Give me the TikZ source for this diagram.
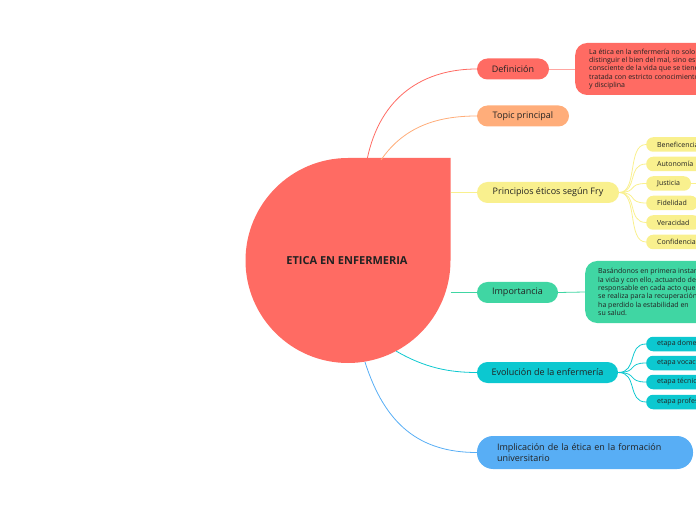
\documentclass[tikz,border=0pt]{standalone}
\usepackage{fontspec}
\setmainfont{Open Sans}
\definecolor{cred}{HTML}{FF6B63}
\definecolor{corange}{HTML}{FFAD7A}
\definecolor{cyellow}{HTML}{F9F08E}
\definecolor{cgreen}{HTML}{40D6A3}
\definecolor{ccyan}{HTML}{0CC8D0}
\definecolor{cblue}{HTML}{58AEF5}
\definecolor{ctext}{HTML}{222222}
\begin{document}
\begin{tikzpicture}[x=1pt,y=1pt,
  topic/.style={rounded corners=10.5pt, minimum height=21pt, inner sep=0pt, font=\fontsize{9}{10.5}\selectfont, text=ctext},
  sub/.style={rounded corners=7pt, minimum height=14.5pt, inner xsep=11pt, inner ysep=0pt, anchor=west, font=\fontsize{7}{8}\selectfont, text=ctext},
  note/.style={rounded corners=12pt, anchor=west, inner xsep=14pt, inner ysep=5pt, align=left, font=\fontsize{7}{8.4}\selectfont, text=ctext},
  conn/.style={line width=0.8pt}
]
\useasboundingbox (0,0) rectangle (696,520);
\clip (0,0) rectangle (696,520);
% central shape
\fill[cred] (348,362) -- (450.5,362) -- (450.5,259.5) arc[start angle=0, end angle=-270, radius=102.5] -- cycle;
\node[font=\fontsize{11}{13}\bfseries, text=ctext] (c) at (347,259) {ETICA EN ENFERMERIA};
\coordinate (cdef) at (367,360);
\coordinate (ctop) at (381,360);
\coordinate (cpri) at (450.5,327.5);
\coordinate (cimp) at (450.5,227.5);
\coordinate (cevo) at (396,169);
\coordinate (cimpl) at (365,158);

% main nodes
\node[topic, fill=cred, minimum width=72pt] (def) at (513,451) {Definición};
\node[topic, fill=corange, minimum width=92pt] (top) at (523,404) {Topic principal};
\node[topic, fill=cyellow, minimum width=142pt] (pri) at (548,327.5) {Principios éticos según Fry};
\node[topic, fill=cgreen, minimum width=81pt] (imp) at (517.5,227.5) {Importancia};
\node[topic, fill=ccyan, minimum width=141pt] (evo) at (547.5,147.5) {Evolución de la enfermería};
\node[topic, fill=cblue, minimum width=216pt, minimum height=33pt, rounded corners=16pt, align=left, text width=180pt, inner xsep=0pt] (impl) at (585,67.5) {\hspace*{2pt}Implicación de la ética en la formación\\\hspace*{2pt}universitario};

% notes
\node[note, fill=cred, minimum height=52pt] (defn) at (575,451) {La ética en la enfermería no solo es\\distinguir el bien del mal, sino estar\\consciente de la vida que se tiene\\tratada con estricto conocimiento\\y disciplina};
\node[note, fill=cgreen, minimum height=62pt, inner xsep=13pt] (impn) at (585,228) {Basándonos en primera instancia en\\la vida y con ello, actuando de forma\\responsable en cada acto que\\se realiza para la recuperación de quien\\ha perdido la estabilidad en\\su salud.};

% sub nodes principios
\node[sub, fill=cyellow] (p1) at (646,375.5) {Beneficencia};
\node[sub, fill=cyellow] (p2) at (646,356) {Autonomía};
\node[sub, fill=cyellow] (p3) at (646,336.5) {Justicia};
\node[sub, fill=cyellow] (p4) at (646,317) {Fidelidad};
\node[sub, fill=cyellow] (p5) at (646,297.5) {Veracidad};
\node[sub, fill=cyellow] (p6) at (646,278) {Confidencialidad};
\coordinate (p3r) at (700,336.5);

% sub nodes evolucion
\node[sub, fill=ccyan] (e1) at (646,176) {etapa domestica};
\node[sub, fill=ccyan] (e2) at (646,157) {etapa vocacional};
\node[sub, fill=ccyan] (e3) at (646,138) {etapa técnica};
\node[sub, fill=ccyan] (e4) at (646,118) {etapa profesional};

% connectors from center
\draw[conn, cred] (cdef) .. controls (380,425) and (425,451) .. (def.west);
\draw[conn, corange] (ctop) .. controls (405,395) and (440,404) .. (top.west);
\draw[conn, cyellow] (cpri) -- (pri.west);
\draw[conn, cgreen] (cimp) -- (imp.west);
\draw[conn, ccyan] (cevo) .. controls (425,152) and (450,147.5) .. (evo.west);
\draw[conn, cblue] (cimpl) .. controls (385,95) and (420,67.5) .. (impl.west);

% to notes
\draw[conn, cred!60] (def.east) -- (defn.west);
\draw[conn, cgreen] (imp.east) -- (impn.west);

% principios children
\foreach \n in {p1,p2,p3,p4,p5,p6}{
  \draw[conn, cyellow] (pri.east) .. controls (638,327.5) and (627,0|-\n.west) .. (\n.west);
}
\draw[conn, cyellow] (p3.east) -- (p3r);
\foreach \n in {e1,e2,e3,e4}{
  \draw[conn, ccyan] (evo.east) .. controls (638,147.5) and (627,0|-\n.west) .. (\n.west);
}
\end{tikzpicture}
\end{document}
